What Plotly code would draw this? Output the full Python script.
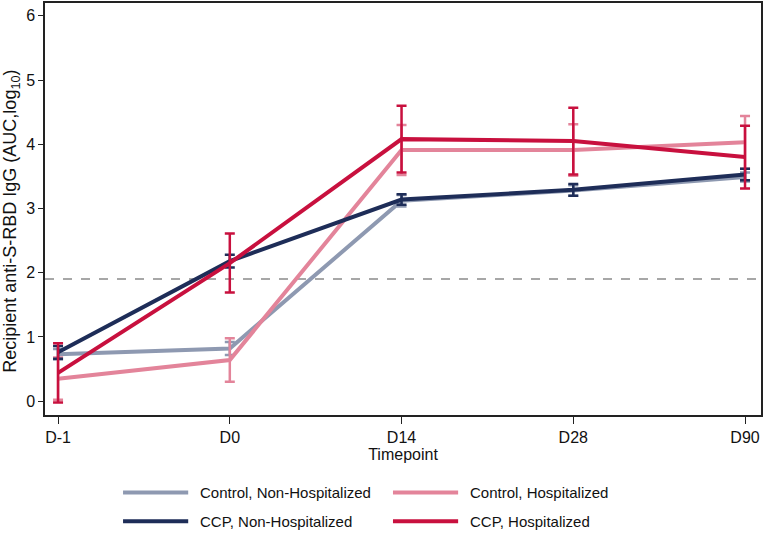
import plotly.graph_objects as go

timepoints = ["D-1", "D0", "D14", "D28", "D90"]
x_pos = [0, 1, 2, 3, 4]

ctrl_nonhosp = [0.73, 0.82, 3.12, 3.28, 3.49]
ctrl_nonhosp_err = [0.08, 0.10, 0.09, 0.08, 0.07]
ccp_nonhosp = [0.76, 2.18, 3.14, 3.29, 3.53]
ccp_nonhosp_err = [0.10, 0.10, 0.08, 0.09, 0.09]
ctrl_hosp = [0.35, 0.64, 3.91, 3.91, 4.03]
ctrl_hosp_err = [0.33, 0.34, 0.39, 0.40, 0.41]
ccp_hosp = [0.44, 2.15, 4.08, 4.05, 3.80]
ccp_hosp_err = [0.46, 0.46, 0.52, 0.52, 0.49]

threshold = 1.9

series = [
    ("Control, Non-Hospitalized", ctrl_nonhosp, ctrl_nonhosp_err, "#8E99B1"),
    ("Control, Hospitalized", ctrl_hosp, ctrl_hosp_err, "#E3849A"),
    ("CCP, Non-Hospitalized", ccp_nonhosp, ccp_nonhosp_err, "#1E2D58"),
    ("CCP, Hospitalized", ccp_hosp, ccp_hosp_err, "#C8103E"),
]

fig = go.Figure()
for name, vals, errs, col in series:
    fig.add_trace(go.Scatter(
        x=x_pos, y=vals, name=name, mode="lines",
        line=dict(color=col, width=4),
        error_y=dict(type="data", array=errs, visible=True, color=col,
                     thickness=2.5, width=5),
        showlegend=False,
    ))

fig.add_shape(type="line", xref="paper", x0=0, x1=1, yref="y",
              y0=threshold, y1=threshold,
              line=dict(color="#8A8A8A", width=1.5, dash="dash"), layer="below")

# manual legend (two columns)
legend_items = [
    (series[0], 0.109, -0.188),
    (series[1], 0.486, -0.188),
    (series[2], 0.109, -0.258),
    (series[3], 0.486, -0.258),
]
for (name, _, _, col), lx, ly in legend_items:
    fig.add_shape(type="line", xref="paper", yref="paper",
                  x0=lx, x1=lx + 0.091, y0=ly, y1=ly,
                  line=dict(color=col, width=4))
    fig.add_annotation(xref="paper", yref="paper", x=lx + 0.105, y=ly,
                       text=name, showarrow=False, xanchor="left",
                       yanchor="middle", font=dict(size=15, color="#111"))

# y-axis title (as rotated annotation, placed like the reference)
fig.add_annotation(xref="paper", yref="paper", x=-0.047, y=0.47,
                   text="Recipient anti-S-RBD IgG (AUC,log<sub>10</sub>)",
                   textangle=-90, showarrow=False, xanchor="center",
                   yanchor="middle", font=dict(size=18, color="#111"))

axis_common = dict(showline=True, linecolor="#222", linewidth=1.5, mirror=True,
                   ticks="outside", tickcolor="#222", tickwidth=1.2,
                   showgrid=False, zeroline=False,
                   tickfont=dict(size=16, color="#111"))

fig.update_layout(
    width=764, height=533,
    margin=dict(l=45, r=2, t=1, b=118),
    paper_bgcolor="white", plot_bgcolor="white",
    font=dict(family="Liberation Sans, Arial, sans-serif", color="#111"),
    xaxis=dict(**axis_common, ticklen=7, tickvals=x_pos, ticktext=timepoints,
               range=[-0.076, 4.093],
               title=dict(text="Timepoint", font=dict(size=16), standoff=4)),
    yaxis=dict(**axis_common, ticklen=5, tickvals=[0, 1, 2, 3, 4, 5, 6],
               range=[-0.216, 6.2]),
)

fig.write_html("out.html", config={"displayModeBar": False},
               post_script="document.body.style.margin='0';document.body.style.overflow='hidden';")
